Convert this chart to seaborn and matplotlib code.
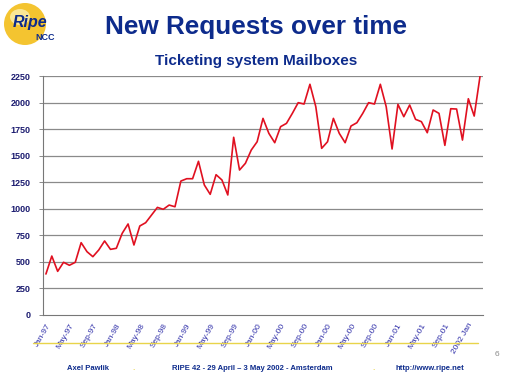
import numpy as np
import pandas as pd
import seaborn as sns
import matplotlib.pyplot as plt
from matplotlib.patches import Ellipse
from matplotlib.lines import Line2D

# monthly new requests
requests = [386, 555, 411, 496, 468, 496, 681, 596, 549, 612,
            697, 618, 628, 769, 857, 659, 838, 869, 941, 1013,
            995, 1035, 1019, 1261, 1283, 1283, 1447, 1224, 1136, 1321,
            1271, 1130, 1673, 1365, 1428, 1553, 1631, 1851, 1710, 1622,
            1773, 1804, 1898, 1999, 1986, 2172, 1961, 1569, 1631, 1851,
            1710, 1622, 1779, 1810, 1898, 1999, 1986, 2172, 1961, 1563,
            1983, 1867, 1977, 1842, 1820, 1716, 1930, 1898, 1597, 1942,
            1939, 1647, 2036, 1873, 2250]
tick_labels = ["Jan-97", "May-97", "Sep-97", "Jan-98", "May-98", "Sep-98",
               "Jan-99", "May-99", "Sep-99", "Jan-00", "May-00", "Sep-00",
               "Jan-00", "May-00", "Sep-00", "Jan-01", "May-01", "Sep-01",
               "2002 Jan"]
y_ticks = [0, 250, 500, 750, 1000, 1250, 1500, 1750, 2000, 2250]

df = pd.DataFrame({"month": np.arange(len(requests)), "requests": requests})

navy = "#0d2b8c"
sns.set_style("white")
plt.rcParams["font.family"] = ["Liberation Sans", "DejaVu Sans"]

fig = plt.figure(figsize=(5.12, 3.84), dpi=100)
ax = fig.add_axes([43 / 512, 1 - 315 / 384, 440 / 512, 239 / 384])

sns.lineplot(data=df, x="month", y="requests", ax=ax, color="#e01020", linewidth=1.2)

ax.set_xlim(-0.5, len(requests) - 0.5)
ax.set_ylim(0, 2250)
ax.set_yticks(y_ticks)
ax.set_yticklabels([str(v) for v in y_ticks], fontsize=6.5, fontweight="bold", color="#1c1c70")
for v in y_ticks[1:]:
    ax.axhline(v, color="#8a8a8a", linewidth=0.9, zorder=0)

ax.set_xticks(np.arange(0, len(requests), 4))
ax.set_xticklabels(tick_labels, rotation=60, ha="right", va="top",
                   rotation_mode="anchor", fontsize=6, color="#2c2ca8")
ax.set_xticks(np.arange(len(requests) + 1) - 0.5, minor=True)
ax.tick_params(axis="x", which="major", length=0, pad=5)
ax.tick_params(axis="x", which="minor", length=3, width=0.6, color="#777777", direction="out")
ax.tick_params(axis="y", length=3, width=0.6, color="#777777", direction="out", pad=6, left=True)
ax.set_xlabel("")
ax.set_ylabel("")
for s in ["top", "right"]:
    ax.spines[s].set_visible(False)
for s in ["left", "bottom"]:
    ax.spines[s].set_color("#777777")
    ax.spines[s].set_linewidth(0.8)

# titles
fig.text(0.5, 1 - 27 / 384, "New Requests over time", ha="center", va="center",
         fontsize=18.8, fontweight="bold", color=navy)
fig.text(0.5, 1 - 61 / 384, "Ticketing system Mailboxes", ha="center", va="center",
         fontsize=11, fontweight="bold", color=navy)

# logo
fig.patches.append(Ellipse((25 / 512, 1 - 24 / 384), 42 / 512, 42 / 384, transform=fig.transFigure,
                           facecolor="#f4c430", edgecolor="none"))
fig.patches.append(Ellipse((20 / 512, 1 - 17 / 384), 20 / 512, 16 / 384, transform=fig.transFigure,
                           facecolor="#fbe796", edgecolor="none"))
fig.text(13 / 512, 1 - 22 / 384, "Ripe", ha="left", va="center", fontsize=11.5,
         fontweight="bold", style="italic", color=navy)
fig.text(35 / 512, 1 - 37 / 384, "NCC", ha="left", va="center", fontsize=6.5,
         fontweight="bold", color=navy)

# footer
fig.lines.append(Line2D([33 / 512, 478 / 512], [1 - 343 / 384] * 2, transform=fig.transFigure,
                        color="#e8d44a", linewidth=1))
fig.text(497 / 512, 1 - 354 / 384, "6", ha="center", va="center", fontsize=6, color="#8a8a8a")
fig.text(88 / 512, 1 - 369 / 384, "Axel Pawlik", ha="center", va="center",
         fontsize=5.5, fontweight="bold", color=navy)
fig.text(252 / 512, 1 - 369 / 384, "RIPE 42 - 29 April \u2013 3 May 2002 - Amsterdam",
         ha="center", va="center", fontsize=5.5, fontweight="bold", color=navy)
fig.text(430 / 512, 1 - 369 / 384, "http://www.ripe.net", ha="center", va="center",
         fontsize=5.5, fontweight="bold", color=navy)
for xp in [134, 374]:
    fig.text(xp / 512, 1 - 368 / 384, ".", ha="center", va="center",
             fontsize=6, fontweight="bold", color="#e8d44a")

fig.savefig("out.png", dpi=100, facecolor="white")
